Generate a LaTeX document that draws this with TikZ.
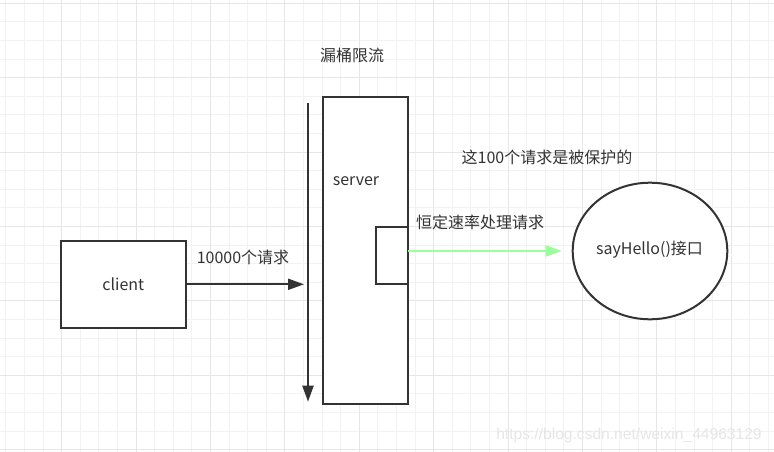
\documentclass[tikz,border=0pt]{standalone}
\usepackage{fontspec}
\setmainfont{Noto Sans CJK SC}
\newfontfamily\wmfont{Liberation Sans}
\usetikzlibrary{arrows.meta,shapes.geometric}
\definecolor{ink}{HTML}{333333}
\definecolor{txt}{HTML}{333333}
\definecolor{gminor}{HTML}{F2F2F2}
\definecolor{gmajor}{HTML}{E6E6E6}
\definecolor{lgreen}{HTML}{99FF99}
\definecolor{wm}{HTML}{E6E6E6}
\tikzset{
  boxshape/.style={draw=ink, line width=2pt, fill=white, rectangle, inner sep=0pt},
  lbl/.style={text=txt, inner sep=0pt, font=\fontsize{16}{19}\selectfont},
  arr/.style={draw=ink, line width=2pt, -{Triangle[length=16pt,width=11pt]}},
  garr/.style={draw=lgreen, line width=2pt, -{Triangle[length=16pt,width=11pt]}},
}
\begin{document}
\begin{tikzpicture}[x=1pt,y=-1pt]
\useasboundingbox (0,0) rectangle (774,452);
\fill[white] (0,0) rectangle (774,452);
% grid
\foreach \i in {0,...,41} {
  \pgfmathsetmacro{\gx}{5.9+18.6*\i}
  \draw[gminor, line width=1pt] (\gx,0) -- (\gx,452);
}
\foreach \j in {0,...,24} {
  \pgfmathsetmacro{\gy}{3.3+18.6*\j}
  \draw[gminor, line width=1pt] (0,\gy) -- (774,\gy);
}
\foreach \i in {0,...,9} {
  \pgfmathsetmacro{\gx}{61.7+74.4*\i}
  \draw[gmajor, line width=1pt] (\gx,0) -- (\gx,452);
}
\foreach \j in {0,...,6} {
  \pgfmathsetmacro{\gy}{3.3+74.4*\j}
  \draw[gmajor, line width=1pt] (0,\gy) -- (774,\gy);
}
% watermark
\node[text=wm, inner sep=0pt, font=\wmfont\fontsize{15.6}{18}\selectfont] (wmk) at (629,435) {https://blog.csdn.net/weixin\_44963129};
% title
\node[lbl] (title) at (352,55.5) {漏桶限流};
% client
\node[boxshape, minimum width=124.7pt, minimum height=86.7pt] (client) at (123.3,284.3) {};
\node[lbl] (clientt) at (123.3,284.3) {client};
% server
\node[boxshape, minimum width=85pt, minimum height=307pt] (server) at (365.5,250.5) {};
\node[lbl] (servert) at (356,181) {server};
\node[boxshape, minimum width=32.3pt, minimum height=57.3pt] (port) at (392,255.5) {};
% vertical arrow
\coordinate (vtop) at (308,103);
\coordinate (vbot) at (308,401.7);
\draw[arr] (vtop) -- (vbot);
% client arrow
\coordinate (hit) at (304,284.3);
\draw[arr] (client.east) -- (hit);
\node[lbl] (reqs) at (243,257) {10000个请求};
% ellipse
\node[draw=ink, line width=2pt, fill=white, ellipse, minimum width=154.6pt, minimum height=136.6pt, inner sep=0pt] (api) at (650,251) {};
\node[lbl] (apit) at (649.5,250) {sayHello()接口};
% green arrow
\coordinate (gs) at (408,251);
\coordinate (ge) at (561.7,251);
\draw[garr] (gs) -- (ge);
\node[lbl] (rate) at (480,222) {恒定速率处理请求};
\node[lbl] (prot) at (547,157.5) {这100个请求是被保护的};
\end{tikzpicture}
\end{document}
